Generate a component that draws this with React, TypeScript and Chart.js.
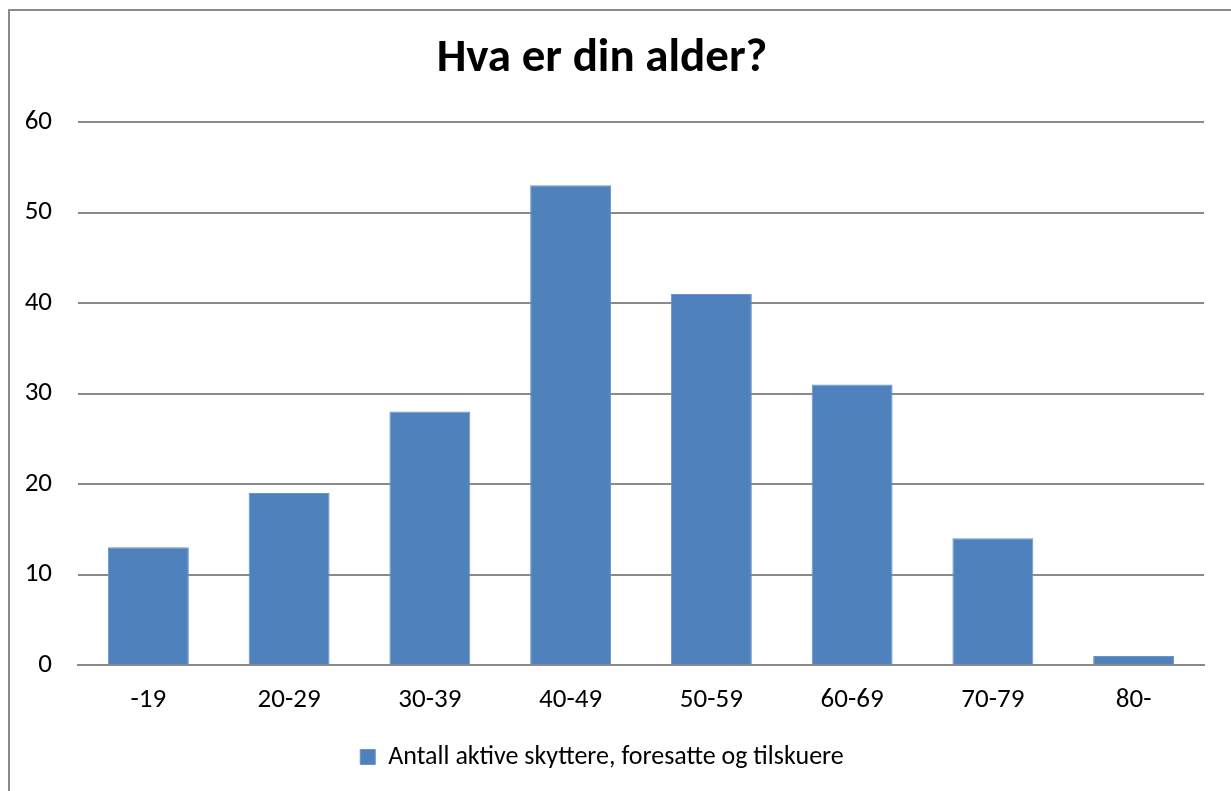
import React, { useEffect, useRef } from "react";
import { Chart, registerables } from "chart.js";

Chart.register(...registerables);

const title = "Hva er din alder?";
const categories = ["-19", "20-29", "30-39", "40-49", "50-59", "60-69", "70-79", "80-"];
const seriesName = "Antall aktive skyttere, foresatte og tilskuere";
const values = [13, 19, 28, 53, 41, 31, 14, 1];
const yMin = 0;
const yMax = 60;
const yStep = 10;

const FONT = "Carlito, Lato, 'Open Sans', sans-serif";

export default function App() {
  const ref = useRef<HTMLCanvasElement | null>(null);

  useEffect(() => {
    if (!ref.current) return;
    const chart = new Chart(ref.current, {
      type: "bar",
      data: {
        labels: categories,
        datasets: [
          {
            label: seriesName,
            data: values,
            backgroundColor: "#4f81bd",
            borderColor: "#6a94c6",
            borderWidth: 1,
            barPercentage: 0.575,
            categoryPercentage: 1,
          },
        ],
      },
      options: {
        responsive: false,
        animation: false,
        layout: { padding: { left: 0, right: 27, top: 0, bottom: 11 } },
        plugins: {
          title: {
            display: true,
            text: title,
            color: "#000000",
            font: { family: FONT, size: 47, weight: "bold", lineHeight: 1.2 },
            padding: { top: 31, bottom: 34.6 },
          },
          legend: {
            display: true,
            position: "bottom",
            labels: {
              color: "#000000",
              font: { family: FONT, size: 26, lineHeight: 1.2 },
              boxWidth: 15,
              boxHeight: 15,
              padding: 10,
            },
          },
          tooltip: { enabled: false },
        },
        scales: {
          x: {
            grid: { display: false, drawTicks: false },
            border: { display: true, color: "#8a8a8a", width: 2 },
            ticks: {
              color: "#000000",
              font: { family: FONT, size: 27, lineHeight: 1.2 },
              padding: 19,
              maxRotation: 0,
            },
            afterFit: (scale: any) => {
              scale.height = 69;
            },
          },
          y: {
            min: yMin,
            max: yMax,
            grid: { color: "#8a8a8a", lineWidth: 2, drawTicks: false },
            border: { display: false },
            ticks: {
              stepSize: yStep,
              color: "#000000",
              font: { family: FONT, size: 27, lineHeight: 1.2 },
              padding: 26,
            },
            afterFit: (scale: any) => {
              scale.width = 78;
            },
          },
        },
      },
    });
    return () => chart.destroy();
  }, []);

  return (
    <>
      <canvas
        ref={ref}
        width={1231}
        height={791}
        style={{ position: "fixed", left: 0, top: 0, width: 1231, height: 791, background: "#ffffff" }}
      />
      <div
        style={{
          position: "fixed",
          left: 8,
          top: 9,
          width: 1400,
          height: 1000,
          border: "2px solid #8a8a8a",
          pointerEvents: "none",
        }}
      />
    </>
  );
}
